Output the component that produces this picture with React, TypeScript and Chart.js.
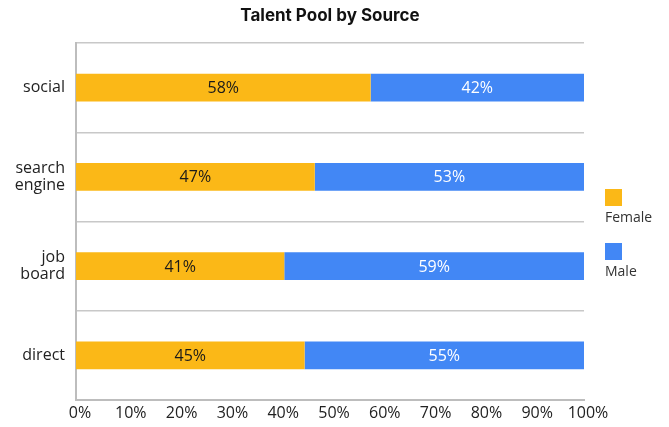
import React, { useEffect, useRef } from "react";
import { Chart, registerables } from "chart.js";

Chart.register(...registerables);

const chartTitle = "Talent Pool by Source";
const categories: (string | string[])[] = ["social", ["search", "engine"], ["job", "board"], "direct"];
const femaleValues = [58, 47, 41, 45];
const maleValues = [42, 53, 59, 55];
const xTicks = [0, 10, 20, 30, 40, 50, 60, 70, 80, 90, 100];
const seriesNames = ["Female", "Male"];
const seriesColors = ["#FBB817", "#4287F5"];
const labelColors = ["#1a1a1a", "#ffffff"];

const FONT = "'Open Sans', 'Noto Sans', sans-serif";

const segmentLabels = {
  id: "segmentLabels",
  afterDatasetsDraw(chart: any) {
    const ctx = chart.ctx;
    ctx.save();
    ctx.font = `16px ${FONT}`;
    ctx.textAlign = "center";
    ctx.textBaseline = "middle";
    chart.data.datasets.forEach((ds: any, di: number) => {
      const meta = chart.getDatasetMeta(di);
      meta.data.forEach((el: any, i: number) => {
        const p = el.getProps(["x", "y", "base"], true);
        ctx.fillStyle = labelColors[di];
        ctx.fillText(ds.data[i] + "%", (p.x + p.base) / 2, p.y + 1);
      });
    });
    ctx.restore();
  },
};

const titleAndLegend = {
  id: "titleAndLegend",
  afterDraw(chart: any) {
    const ctx = chart.ctx;
    const area = chart.chartArea;
    ctx.save();
    ctx.fillStyle = "#111111";
    ctx.font = `bold 17px Inter, Roboto, sans-serif`;
    ctx.textAlign = "center";
    ctx.textBaseline = "middle";
    ctx.fillText(chartTitle, (area.left + area.right) / 2, 16);

    const x = 605;
    const tops = [189, 243];
    seriesNames.forEach((name, i) => {
      ctx.fillStyle = seriesColors[i];
      ctx.fillRect(x, tops[i], 17, 17);
      ctx.fillStyle = "#333333";
      ctx.font = `14px ${FONT}`;
      ctx.textAlign = "left";
      ctx.textBaseline = "middle";
      ctx.fillText(name, x, tops[i] + 29);
    });
    ctx.restore();
  },
};

export default function App() {
  const ref = useRef<HTMLCanvasElement | null>(null);
  useEffect(() => {
    if (!ref.current) return;
    const chart = new Chart(ref.current, {
      type: "bar",
      data: {
        labels: categories as any,
        datasets: [
          { label: seriesNames[0], data: femaleValues, backgroundColor: seriesColors[0], barPercentage: 0.62, categoryPercentage: 0.5 },
          { label: seriesNames[1], data: maleValues, backgroundColor: seriesColors[1], barPercentage: 0.62, categoryPercentage: 0.5 },
        ],
      },
      options: {
        indexAxis: "y",
        animation: false,
        responsive: true,
        maintainAspectRatio: false,
        layout: { padding: { left: 0, right: 85, top: 43, bottom: 0 } },
        plugins: {
          legend: { display: false },
          tooltip: { enabled: false },
          title: { display: false },
        },
        scales: {
          x: {
            stacked: true,
            min: 0,
            max: 100,
            afterBuildTicks(scale: any) {
              scale.ticks = xTicks.map((v) => ({ value: v }));
            },
            afterFit(scale: any) {
              scale.height = 27;
            },
            ticks: {
              callback: (v: any) => v + "%",
              color: "#222222",
              font: { family: FONT, size: 16 },
              padding: 4,
              labelOffset: 4,
              maxRotation: 0,
              autoSkip: false,
            },
            grid: { display: false, drawTicks: false },
            border: { display: true, color: "#bdbdbd", width: 2 },
          },
          y: {
            stacked: true,
            afterFit(scale: any) {
              scale.width = 76;
            },
            ticks: {
              color: "#222222",
              font: { family: FONT, size: 16, lineHeight: 1.05 },
              padding: 11,
            },
            grid: { display: true, color: "#c8c8c8", lineWidth: 1.5, drawTicks: false, offset: true },
            border: { display: true, color: "#bdbdbd", width: 2 },
          },
        },
      },
      plugins: [segmentLabels, titleAndLegend],
    } as any);
    return () => chart.destroy();
  }, []);
  return (
    <div style={{ position: "fixed", left: 0, top: 0, width: 669, height: 427, background: "#fff" }}>
      <canvas ref={ref} />
    </div>
  );
}
